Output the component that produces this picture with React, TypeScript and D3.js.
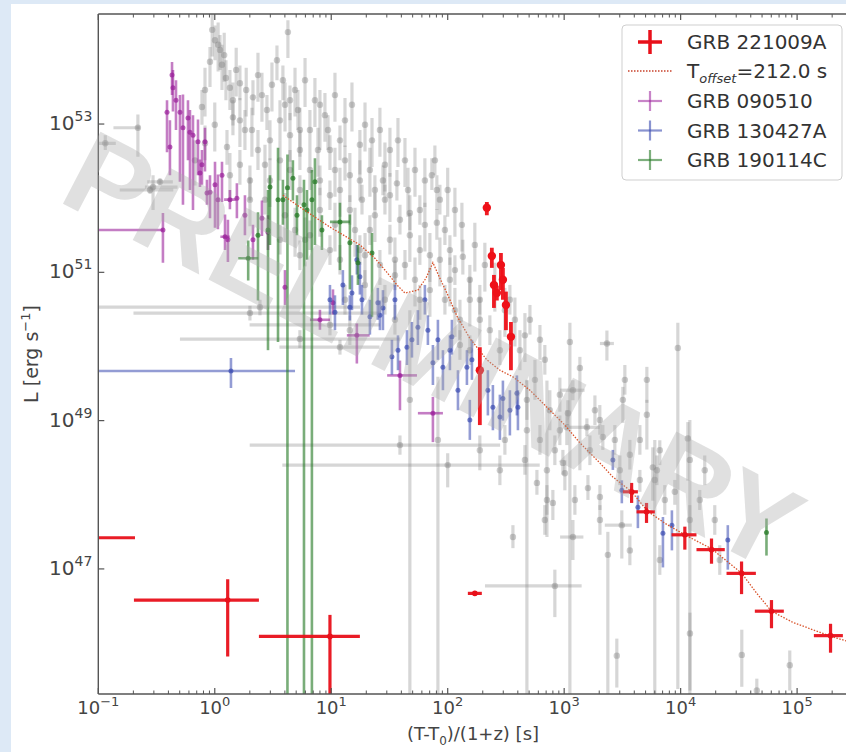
import React, { useEffect, useRef } from 'react';
import * as d3 from 'd3';

// every point: [log10 t, log10 L, yErrLow, yErrHigh, xErrLow, xErrHigh]  (errors in decades)
type Pt = number[];

const xDomainExp = [-1, 5.54];
const yDomainExp = [45.313, 54.484];
const xMajorExp = [-1, 0, 1, 2, 3, 4, 5];
const yMajorExp = [47, 49, 51, 53];

const legendLabels = ['GRB 221009A', 'T_offset=212.0 s', 'GRB 090510', 'GRB 130427A', 'GRB 190114C'];

// GRB 221009A
const grb221009a: Pt[] = [
  [-1.3, 47.42, 0.03, 0.03, 0.5, 0.615],
  [0.111, 46.58, 0.76, 0.28, 0.805, 0.268],
  [0.989, 46.09, 2.0, 0.29, 0.61, 0.257],
  [2.233, 46.67, 0.03, 0.03, 0.06, 0.06],
  [3.579, 48.04, 0.15, 0.12, 0.075, 0.054],
  [3.707, 47.77, 0.15, 0.12, 0.086, 0.071],
  [4.036, 47.46, 0.2, 0.11, 0.114, 0.1],
  [4.265, 47.26, 0.19, 0.15, 0.129, 0.114],
  [4.523, 46.94, 0.28, 0.16, 0.129, 0.123],
  [4.78, 46.43, 0.23, 0.15, 0.143, 0.106],
  [5.287, 46.1, 0.23, 0.16, 0.143, 0.106],
];

const grb221009aFlare: Pt[] = [
  [2.336, 51.87, 0.1, 0.08],
  [2.379, 51.22, 0.16, 0.11],
  [2.397, 50.83, 0.31, 0.135],
  [2.422, 50.72, 0.1, 0.1],
  [2.457, 51.1, 0.34, 0.16],
  [2.474, 50.9, 0.27, 0.16],
  [2.5, 50.56, 0.34, 0.18],
  [2.543, 50.13, 0.45, 0.2],
  [2.276, 49.68, 0.74, 0.31],
];

// model curve with T_offset = 212 s  [log10 t, log10 L]
const tOffsetModel = [
  [0.585, 52.04], [0.731, 51.88], [0.989, 51.61], [1.246, 51.37], [1.375, 51.19],
  [1.478, 51.0], [1.564, 50.83], [1.633, 50.72], [1.744, 50.76], [1.813, 50.92],
  [1.873, 51.13], [1.933, 50.92], [2.002, 50.69], [2.079, 50.41], [2.19, 50.11],
  [2.336, 49.82], [2.448, 49.68], [2.56, 49.59], [2.706, 49.41], [2.852, 49.18],
  [3.006, 48.94], [3.135, 48.7], [3.306, 48.43], [3.418, 48.24], [3.58, 48.04],
  [3.715, 47.78], [3.87, 47.61], [4.036, 47.46], [4.268, 47.27], [4.525, 46.94],
  [4.654, 46.67], [4.78, 46.43], [4.962, 46.28], [5.29, 46.09], [5.42, 46.03],
];

const grb090510: Pt[] = [
  [-0.445, 51.57, 0.44, 0.23, 0.7, 0],
  [-0.367, 53.66, 0.27, 0.175], [-0.359, 53.49, 0.32, 0.24], [-0.41, 53.16, 0.54, 0.16],
  [-0.385, 52.69, 0.38, 0.36], [-0.333, 53.32, 0.4, 0.27], [-0.299, 53.16, 0.94, 0.23],
  [-0.273, 52.95, 1.04, 0.45], [-0.23, 53.08, 0.57, 0.24], [-0.213, 52.89, 0.78, 0.3],
  [-0.187, 52.85, 1.01, 0.27], [-0.144, 52.76, 0.45, 0.3], [-0.11, 52.45, 0.27, 0.2],
  [-0.084, 52.76, 0.4, 0.19], [-0.041, 52.08, 0.35, 0.23], [0.002, 52.18, 0.58, 0.31],
  [0.027, 51.98, 0.4, 0.34], [0.062, 52.31, 0.36, 0.18], [0.088, 51.48, 0.18, 0.3, 0.04, 0.04],
  [0.113, 51.44, 0.3, 0.27], [0.19, 52.0, 0.27, 0.2], [0.328, 51.44, 0.27, 0.2],
  [0.259, 51.77, 0.27, 0.27], [0.603, 50.8, 0.24, 0.23], [0.903, 50.36, 0.135, 0.135, 0.086, 0.086],
  [1.22, 50.15, 0.38, 0.16, 0.086, 0.11], [1.59, 49.61, 0.47, 0.2, 0.11, 0.146],
  [1.873, 49.1, 0.39, 0.22, 0.129, 0.086], [1.015, 50.59, 0.16, 0.18], [0.405, 51.73, 0.24, 0.24],
  [0.457, 51.54, 0.24, 0.23], [-0.127, 52.34, 0.19, 0.18], [-0.067, 52.07, 0.16, 0.18],
  [0.13, 51.98, 0.13, 0.13, 0.05, 0.05],
];

const grb130427a: Pt[] = [
  [0.139, 49.67, 0.23, 0.175, 1.3, 0.55],
  [0.989, 50.63, 0.2, 0.2], [1.032, 50.46, 0.24, 0.23], [1.1, 50.83, 0.27, 0.2],
  [1.178, 50.72, 0.23, 0.24], [1.246, 50.94, 0.24, 0.2], [1.22, 51.17, 0.2, 0.2],
  [1.332, 50.4, 0.24, 0.23], [1.4, 50.59, 0.23, 0.2], [1.444, 50.52, 0.3, 0.24],
  [1.521, 49.86, 0.24, 0.23], [1.573, 49.95, 0.27, 0.2], [1.65, 49.99, 0.24, 0.23],
  [1.693, 50.09, 0.24, 0.24], [1.744, 50.26, 0.24, 0.23], [1.873, 49.78, 0.3, 0.24],
  [1.916, 50.09, 0.27, 0.27], [1.959, 49.72, 0.31, 0.23], [2.036, 50.13, 0.24, 0.23],
  [2.088, 49.41, 0.27, 0.27], [2.165, 49.72, 0.24, 0.23], [2.208, 49.82, 0.27, 0.27],
  [2.345, 49.41, 0.34, 0.27], [2.388, 49.18, 0.31, 0.3], [2.448, 49.05, 0.31, 0.3],
  [2.474, 49.3, 0.3, 0.24], [2.534, 49.14, 0.34, 0.27], [2.594, 49.37, 0.3, 0.24],
  [2.603, 49.18, 0.31, 0.23], [3.418, 48.47, 0.135, 0.135], [3.495, 48.06, 0.175, 0.135],
  [3.633, 47.83, 0.28, 0.16], [3.848, 47.48, 0.46, 0.22], [3.925, 47.59, 0.34, 0.2],
  [4.405, 47.39, 0.4, 0.2], [1.16, 50.53, 0.18, 0.16], [1.418, 50.42, 0.2, 0.2],
  [1.804, 50.63, 0.2, 0.2], [1.547, 50.63, 0.27, 0.2], [2.19, 49.01, 0.27, 0.27],
  [2.019, 49.95, 0.27, 0.2], [1.83, 50.22, 0.2, 0.2], [1.264, 50.63, 0.2, 0.2],
];

const grb190114c: Pt[] = [
  [0.287, 51.19, 0.3, 0.24, 0.086, 0.086], [0.371, 51.5, 0.88, 0.31], [0.457, 51.57, 1.62, 0.54],
  [0.474, 52.15, 0.78, 0.16], [0.543, 51.98, 1.92, 0.7], [0.624, 52.14, 8, 0.45],
  [0.671, 52.27, 0.3, 0.24], [0.706, 51.77, 0.27, 0.27], [0.766, 51.91, 8, 0.34],
  [0.834, 51.98, 8, 0.4], [0.86, 52.22, 0.85, 0.32], [0.792, 51.84, 0.67, 0.27],
  [1.075, 51.68, 0.65, 0.26, 0.086, 0.086], [1.16, 51.4, 0.63, 0.38], [1.229, 51.13, 0.3, 0.24],
  [1.35, 51.26, 0.86, 0.27], [4.737, 47.49, 0.31, 0.19], [0.585, 51.98, 0.34, 0.27],
  [0.92, 51.57, 0.27, 0.2],
];

// comparison sample
const grbSample: Pt[] = [
  [-0.66, 52.95, 0.39, 0.18, 0.21, 0.02], [-0.94, 52.74, 0.09, 0.11, 0.1, 0.09],
  [-0.53, 52.15, 0.31, 0.16, 0.07, 0.21], [-0.47, 52.22, 0.05, 0.05, 0.11, 0.11],
  [-0.556, 52.11, 0.05, 0.05, 0.26, 0.2], [0.388, 50.53, 0.11, 0.1, 1.42, 0.86],
  [0.302, 50.45, 0.1, 0.1, 1.0, 1.12], [0.989, 50.29, 0.14, 0.14, 0.69, 0.43],
  [0.731, 50.1, 0.12, 0.12, 1.03, 0.86], [1.59, 48.67, 0.13, 0.13, 1.29, 0.86],
  [2.0, 48.4, 0.3, 0.16, 1.42, 0.79],
  [-0.041, 53.84, 0.34, 0.2], [0.002, 54.13, 0.27, 0.2], [0.045, 54.0, 0.27, 0.2],
  [0.062, 53.8, 0.34, 0.27], [0.096, 53.62, 0.3, 0.24], [0.13, 53.49, 0.3, 0.24],
  [0.156, 53.32, 0.34, 0.24], [-0.11, 53.23, 0.24, 0.23], [-0.084, 52.74, 0.23, 0.24],
  [0.105, 52.69, 0.24, 0.23], [0.156, 53.09, 0.24, 0.23], [0.216, 53.55, 0.23, 0.24],
  [0.328, 53.36, 0.24, 0.23], [0.448, 53.19, 0.27, 0.2], [0.534, 53.86, 0.27, 0.2],
  [0.628, 54.24, 0.35, 0.16], [-0.17, 52.51, 0.34, 0.27], [0.259, 52.92, 0.27, 0.27],
  [0.371, 52.65, 0.27, 0.27], [0.216, 52.45, 0.27, 0.2], [0.302, 52.24, 0.27, 0.2],
  [0.431, 52.45, 0.27, 0.27], [0.474, 52.78, 0.27, 0.27], [0.56, 53.05, 0.27, 0.27],
  [0.585, 53.59, 0.27, 0.2], [0.646, 53.32, 0.27, 0.2], [0.714, 53.19, 0.27, 0.27],
  [0.731, 52.65, 0.27, 0.27], [0.817, 52.92, 0.27, 0.27], [0.903, 53.26, 0.61, 0.2],
  [0.972, 52.92, 0.27, 0.2], [0.989, 52.65, 0.27, 0.2], [1.075, 52.78, 0.27, 0.2],
  [1.118, 52.51, 0.27, 0.2], [1.246, 52.72, 0.4, 0.2], [1.246, 52.24, 0.27, 0.27],
  [1.264, 51.98, 0.2, 0.2], [1.375, 52.11, 0.27, 0.2], [1.461, 51.98, 0.2, 0.2],
  [1.444, 52.24, 0.2, 0.2], [1.564, 52.2, 0.23, 0.18], [1.59, 51.71, 0.2, 0.2],
  [1.675, 51.8, 0.23, 0.24], [1.761, 51.84, 0.2, 0.2], [1.89, 52.51, 0.2, 0.2],
  [1.907, 52.11, 0.27, 0.2], [1.907, 51.67, 0.23, 0.18], [1.933, 51.98, 0.2, 0.2],
  [1.976, 51.57, 0.2, 0.2], [1.864, 52.31, 0.2, 0.23], [2.019, 51.3, 0.2, 0.2],
  [2.13, 51.21, 0.24, 0.23], [2.062, 51.03, 0.2, 0.2], [2.19, 50.9, 0.2, 0.2],
  [2.276, 50.63, 0.2, 0.2], [1.504, 51.44, 0.2, 0.2], [1.332, 51.57, 0.2, 0.2],
  [1.16, 51.84, 0.2, 0.2], [0.989, 52.04, 0.2, 0.2], [0.903, 52.24, 0.2, 0.2],
  [0.817, 52.38, 0.27, 0.27], [0.731, 52.11, 0.2, 0.2], [0.646, 52.38, 0.27, 0.27],
  [0.56, 52.51, 0.27, 0.27], [1.633, 51.1, 0.2, 0.2], [1.761, 51.3, 0.2, 0.2],
  [1.547, 50.96, 0.2, 0.2], [1.418, 51.1, 0.27, 0.2], [1.289, 50.83, 0.2, 0.2],
  [1.118, 50.63, 0.2, 0.2], [1.761, 50.63, 0.27, 0.2], [1.976, 50.63, 0.2, 0.2],
  [2.105, 50.36, 0.27, 0.27], [2.362, 50.22, 0.2, 0.2], [2.448, 49.95, 0.2, 0.27],
  [2.62, 49.95, 0.27, 0.27], [2.749, 49.55, 0.27, 0.27], [2.792, 50.09, 0.27, 0.2],
  [2.68, 49.28, 0.27, 0.27], [2.877, 49.14, 0.27, 0.27], [2.963, 49.35, 0.23, 0.23],
  [3.049, 50.06, 4.83, 0.26], [3.135, 49.71, 1.38, 0.15], [3.367, 50.04, 0.23, 0.175, 0.06, 0.06],
  [3.504, 49.28, 0.31, 0.175], [3.71, 49.55, 0.31, 0.175], [3.71, 49.08, 0.47, 0.2],
  [3.976, 49.98, 4.6, 0.34], [4.062, 48.76, 0.57, 0.22], [3.761, 48.37, 0.45, 0.27],
  [3.075, 49.41, 0.135, 0.135, 0.11, 0.1], [3.032, 49.1, 0.16, 0.175],
  [3.195, 48.91, 0.12, 0.12, 0.146, 0.11], [3.332, 48.78, 0.175, 0.16],
  [2.989, 48.43, 0.16, 0.175], [3.006, 48.29, 0.23, 0.175], [2.852, 47.93, 0.2, 0.2],
  [2.903, 47.89, 0.23, 0.175], [3.075, 47.43, 0.31, 0.23, 0.11, 0.09], [3.204, 48.09, 0.16, 0.175],
  [3.307, 47.97, 0.175, 0.16], [2.766, 48.16, 0.16, 0.175], [3.023, 48.91, 0.24, 0.23],
  [3.796, 48.33, 0.2, 0.2], [3.95, 48.04, 0.175, 0.16], [4.08, 46.13, 0.77, 0.28],
  [3.452, 45.83, 0.43, 0.23], [3.375, 47.19, 2.0, 0.31], [3.495, 47.59, 0.45, 0.2, 0.146, 0.086],
  [4.525, 45.84, 0.43, 0.34], [4.654, 45.36, 0.3, 0.16], [4.937, 45.7, 0.34, 0.2],
  [2.92, 46.77, 0.42, 0.22, 0.6, 0.23], [1.675, 49.28, 5, 1.21], [1.916, 48.74, 5, 0.85],
  [2.68, 48.87, 5, 0.67], [2.852, 48.33, 0.9, 1.21], [3.778, 48.2, 5, 0.54],
  [4.079, 48.47, 5, 0.54], [2.19, 49.95, 0.2, 0.2], [2.534, 50.63, 0.2, 0.2],
  [2.706, 50.36, 0.2, 0.2], [2.834, 49.82, 0.2, 0.2], [3.306, 49.01, 0.2, 0.2],
  [3.435, 48.74, 0.2, 0.2], [3.564, 48.54, 0.2, 0.2], [3.821, 48.6, 0.2, 0.135],
  [3.65, 48.2, 0.16, 0.135], [4.164, 47.93, 0.135, 0.135], [4.293, 47.66, 0.2, 0.2],
  [2.276, 48.6, 0.27, 0.2], [2.448, 48.33, 0.2, 0.2], [2.56, 47.43, 0.15, 0.16],
  [3.264, 49.14, 0.2, 0.2], [3.521, 49.55, 0.2, 0.2], [2.491, 48.74, 0.2, 0.2],
  [2.663, 48.47, 0.2, 0.2], [2.792, 48.74, 0.2, 0.2], [2.92, 48.6, 0.2, 0.2],
  [1.075, 51.17, 0.2, 0.2], [1.246, 51.3, 0.2, 0.2], [0.989, 51.3, 0.2, 0.2],
  [0.817, 51.5, 0.2, 0.2], [0.731, 51.23, 0.2, 0.2], [1.461, 50.63, 0.2, 0.2],
  [2.105, 50.02, 0.2, 0.2], [1.547, 50.36, 0.2, 0.2], [1.16, 50.22, 0.2, 0.2],
  [0.56, 51.44, 0.2, 0.2], [0.431, 51.98, 0.2, 0.2], [1.075, 49.99, 0.1, 0.1, 0.52, 0.34],
  // dense prompt-emission cloud
  [-0.022, 54.27, 0.36, 0.3], [0.029, 54.07, 0.36, 0.3], [0.081, 53.93, 0.36, 0.3],
  [0.184, 53.73, 0.36, 0.3], [0.27, 53.46, 0.36, 0.3], [0.371, 53.66, 0.36, 0.3],
  [0.405, 53.39, 0.36, 0.3], [0.491, 53.53, 0.36, 0.3], [0.603, 53.26, 0.36, 0.3],
  [0.689, 53.46, 0.36, 0.3], [0.775, 53.59, 0.36, 0.3], [0.86, 53.32, 0.36, 0.3],
  [0.946, 53.12, 0.36, 0.3], [1.032, 53.39, 0.36, 0.3], [1.118, 53.05, 0.36, 0.3],
  [1.178, 53.26, 0.36, 0.3], [1.29, 52.99, 0.36, 0.3], [1.35, 52.78, 0.36, 0.3],
  [1.418, 52.92, 0.36, 0.3], [1.504, 52.65, 0.36, 0.3], [1.573, 52.78, 0.36, 0.3],
  [1.633, 52.51, 0.36, 0.3], [1.719, 52.38, 0.36, 0.3], [1.804, 52.24, 0.36, 0.3],
  [2.0, 52.11, 0.36, 0.3], [2.062, 51.84, 0.36, 0.3], [2.122, 51.64, 0.36, 0.3],
  [2.233, 51.37, 0.36, 0.3], [2.319, 51.1, 0.36, 0.3], [2.405, 50.83, 0.36, 0.3],
  [2.491, 50.49, 0.36, 0.3], [2.577, 50.36, 0.36, 0.3], [2.663, 50.15, 0.36, 0.3],
  [0.474, 52.24, 0.36, 0.3], [0.603, 51.77, 0.36, 0.3], [0.689, 51.57, 0.36, 0.3],
  [0.903, 51.84, 0.36, 0.3], [1.075, 52.11, 0.36, 0.3], [1.204, 51.57, 0.36, 0.3],
  [1.375, 51.77, 0.36, 0.3], [1.504, 52.04, 0.36, 0.3], [1.675, 51.5, 0.36, 0.3],
  [1.804, 51.64, 0.36, 0.3], [1.847, 51.23, 0.36, 0.3], [1.933, 51.17, 0.36, 0.3],
  [2.019, 50.9, 0.36, 0.3], [1.29, 51.23, 0.36, 0.3], [1.547, 51.17, 0.36, 0.3],
  [1.719, 50.9, 0.36, 0.3], [1.847, 50.76, 0.36, 0.3], [2.19, 50.63, 0.36, 0.3],
  [2.276, 50.36, 0.36, 0.3], [2.062, 50.49, 0.36, 0.3], [0.302, 51.98, 0.36, 0.3],
  [0.13, 52.31, 0.36, 0.3], [0.0, 52.99, 0.36, 0.3], [-0.084, 53.46, 0.36, 0.3],
  [0.216, 53.05, 0.36, 0.3], [0.319, 52.92, 0.36, 0.3], [0.731, 52.92, 0.36, 0.3],
  [0.886, 52.65, 0.36, 0.3], [1.032, 52.38, 0.36, 0.3], [1.16, 52.31, 0.36, 0.3],
  [1.332, 52.38, 0.36, 0.3], [1.461, 52.45, 0.36, 0.3], [1.659, 52.11, 0.36, 0.3],
  [1.032, 51.64, 0.36, 0.3], [0.775, 51.44, 0.36, 0.3], [0.646, 52.85, 0.36, 0.3],
  // afterglow spread
  [2.963, 48.87, 0.2, 0.2], [3.221, 48.6, 0.2, 0.2], [3.478, 48.33, 0.2, 0.2],
  [3.65, 48.74, 0.2, 0.2], [3.864, 47.93, 0.2, 0.2], [4.079, 47.66, 0.2, 0.2],
  [4.207, 48.33, 0.2, 0.2], [3.307, 47.66, 0.2, 0.2], [3.092, 47.93, 0.2, 0.2],
  [2.834, 47.66, 0.2, 0.2], [4.336, 47.12, 0.2, 0.2], [3.821, 47.12, 0.2, 0.2],
  [3.564, 47.25, 0.2, 0.2],
];

const W = 846;
const H = 752;

function App() {
  const svgRef = useRef<SVGSVGElement>(null);

  useEffect(() => {
    const svg = d3.select(svgRef.current);
    svg.selectAll('*').remove();

    const left = 98.3, right = 860, top = 14, bottom = 694;
    const x = d3.scaleLog().domain(xDomainExp.map((e) => 10 ** e)).range([left, right]);
    const y = d3.scaleLog().domain(yDomainExp.map((e) => 10 ** e)).range([bottom, top]);
    const axisColor = '#555';

    svg.append('rect').attr('x', 11).attr('y', 4).attr('width', W - 11).attr('height', H - 4).attr('fill', '#fff');

    svg.append('clipPath').attr('id', 'plotclip')
      .append('rect').attr('x', left).attr('y', top).attr('width', right - left).attr('height', bottom - top);

    const plot = svg.append('g').attr('clip-path', 'url(#plotclip)');

    const drawSeries = (pts: Pt[], color: string, lw: number, alpha: number, r: number, mAlpha: number) => {
      const g = plot.append('g');
      pts.forEach((p) => {
        const [t, l, eyl, eyh, exl = 0, exh = 0] = p;
        const cx = x(10 ** t), cy = y(10 ** l);
        g.append('line')
          .attr('x1', cx).attr('x2', cx)
          .attr('y1', y(10 ** (l - eyl))).attr('y2', y(10 ** (l + eyh)))
          .attr('stroke', color).attr('stroke-width', lw).attr('stroke-opacity', alpha);
        if (exl + exh > 0) {
          g.append('line')
            .attr('x1', x(10 ** (t - exl))).attr('x2', x(10 ** (t + exh)))
            .attr('y1', cy).attr('y2', cy)
            .attr('stroke', color).attr('stroke-width', lw).attr('stroke-opacity', alpha);
        }
        g.append('circle').attr('cx', cx).attr('cy', cy).attr('r', r)
          .attr('fill', color).attr('fill-opacity', mAlpha);
      });
    };

    drawSeries(grbSample, '#808080', 3.2, 0.32, 3.2, 0.4);
    drawSeries(grb090510, '#9a1f9a', 2.6, 0.58, 2.5, 0.7);
    drawSeries(grb130427a, '#3b4bb0', 2.6, 0.55, 2.5, 0.7);
    drawSeries(grb190114c, '#267a26', 2.6, 0.62, 2.5, 0.75);

    plot.append('path')
      .datum(tOffsetModel)
      .attr('fill', 'none')
      .attr('stroke', '#d9542c')
      .attr('stroke-width', 1.3)
      .attr('stroke-dasharray', '1.5,1.5')
      .attr('d', d3.line<number[]>().x((d) => x(10 ** d[0])).y((d) => y(10 ** d[1])));

    drawSeries(grb221009a, '#e8101a', 3.2, 0.95, 2.8, 1);
    drawSeries(grb221009aFlare, '#ee1018', 3.8, 0.95, 4.2, 1);

    // axes
    const ax = svg.append('g').attr('stroke', axisColor);
    ax.append('line').attr('x1', left).attr('x2', right).attr('y1', bottom).attr('y2', bottom).attr('stroke-width', 1.4);
    ax.append('line').attr('x1', left).attr('x2', right).attr('y1', top).attr('y2', top).attr('stroke-width', 1.4);
    ax.append('line').attr('x1', left).attr('x2', left).attr('y1', top).attr('y2', bottom).attr('stroke-width', 1.4);

    xMajorExp.forEach((k) => {
      const px = x(10 ** k);
      ax.append('line').attr('x1', px).attr('x2', px).attr('y1', bottom).attr('y2', bottom - 6).attr('stroke-width', 1.2);
      ax.append('line').attr('x1', px).attr('x2', px).attr('y1', top).attr('y2', top + 6).attr('stroke-width', 1.2);
      for (let m = 2; m <= 9; m++) {
        const v = m * 10 ** k;
        if (x(v) > right) continue;
        ax.append('line').attr('x1', x(v)).attr('x2', x(v)).attr('y1', bottom).attr('y2', bottom - 3.5).attr('stroke-width', 1);
        ax.append('line').attr('x1', x(v)).attr('x2', x(v)).attr('y1', top).attr('y2', top + 3.5).attr('stroke-width', 1);
      }
      const txt = svg.append('text')
        .attr('x', px).attr('y', bottom + 20)
        .attr('text-anchor', 'middle')
        .attr('font-family', 'DejaVu Sans').attr('font-size', 18).attr('fill', '#444');
      txt.append('tspan').text('10');
      txt.append('tspan').attr('dy', -8).attr('font-size', 13).text(k < 0 ? `\u2212${-k}` : `${k}`);
    });

    yMajorExp.forEach((k) => {
      const py = y(10 ** k);
      ax.append('line').attr('x1', left).attr('x2', left + 6).attr('y1', py).attr('y2', py).attr('stroke-width', 1.2);
      const txt = svg.append('text')
        .attr('x', left - 6).attr('y', py + 6)
        .attr('text-anchor', 'end')
        .attr('font-family', 'DejaVu Sans').attr('font-size', 20).attr('fill', '#444');
      txt.append('tspan').text('10');
      txt.append('tspan').attr('dy', -9).attr('font-size', 14).text(`${k}`);
    });

    const xl = svg.append('text')
      .attr('x', 473).attr('y', 740).attr('text-anchor', 'middle')
      .attr('font-family', 'DejaVu Sans').attr('font-size', 18).attr('fill', '#444');
    xl.append('tspan').text('(T-T');
    xl.append('tspan').attr('dy', 5).attr('font-size', 12).text('0');
    xl.append('tspan').attr('dy', -5).text(')/(1+z) [s]');

    const yl = svg.append('text')
      .attr('transform', 'translate(38,354) rotate(-90)').attr('text-anchor', 'middle')
      .attr('font-family', 'DejaVu Sans').attr('font-size', 19).attr('fill', '#444');
    yl.append('tspan').text('L [erg s');
    yl.append('tspan').attr('dy', -8).attr('font-size', 13).text('\u22121');
    yl.append('tspan').attr('dy', 8).text(']');

    // legend
    const lg = svg.append('g');
    lg.append('rect').attr('x', 622).attr('y', 25).attr('width', 220).attr('height', 155).attr('rx', 4)
      .attr('fill', '#fff').attr('fill-opacity', 0.85).attr('stroke', '#cfcfcf').attr('stroke-width', 1);
    const rowY = [42, 71, 101, 130.5, 160];
    const symX = 650;
    const cross = (cy: number, color: string, lw: number, alpha: number, h: number) => {
      lg.append('line').attr('x1', symX - 12).attr('x2', symX + 12).attr('y1', cy).attr('y2', cy)
        .attr('stroke', color).attr('stroke-width', lw).attr('stroke-opacity', alpha);
      lg.append('line').attr('x1', symX).attr('x2', symX).attr('y1', cy - h).attr('y2', cy + h)
        .attr('stroke', color).attr('stroke-width', lw).attr('stroke-opacity', alpha);
    };
    cross(rowY[0], '#e8101a', 3.5, 1, 12);
    lg.append('line').attr('x1', 628).attr('x2', 672).attr('y1', rowY[1]).attr('y2', rowY[1])
      .attr('stroke', '#c8402a').attr('stroke-width', 1.4).attr('stroke-dasharray', '1.5,1.5');
    cross(rowY[2], '#9a1f9a', 2.2, 0.55, 10);
    cross(rowY[3], '#3b4bb0', 2.2, 0.6, 10);
    cross(rowY[4], '#267a26', 2.2, 0.6, 10);

    legendLabels.forEach((lab, i) => {
      const t = lg.append('text').attr('x', 687).attr('y', rowY[i] + 7)
        .attr('font-family', 'DejaVu Sans').attr('font-size', 20).attr('fill', '#333');
      if (lab.startsWith('T_')) {
        t.append('tspan').text('T');
        t.append('tspan').attr('dy', 5).attr('font-size', 13).attr('font-style', 'italic').text('offset');
        t.append('tspan').attr('dy', -5).text('=212.0 s');
      } else {
        t.text(lab);
      }
    });

    // watermark
    svg.append('text')
      .attr('transform', 'translate(56,200) rotate(27.5)')
      .attr('font-family', 'Liberation Sans').attr('font-weight', 'bold').attr('font-size', 118)
      .attr('fill', '#a8a8a8').attr('fill-opacity', 0.36)
      .text('PRELIMINARY');
  }, []);

  return (
    <div style={{ position: 'fixed', left: 0, top: 0, width: W, height: H, overflow: 'hidden', background: '#dde9f6' }}>
      <svg ref={svgRef} width={W} height={H} style={{ display: 'block' }} />
    </div>
  );
}

export default App;
